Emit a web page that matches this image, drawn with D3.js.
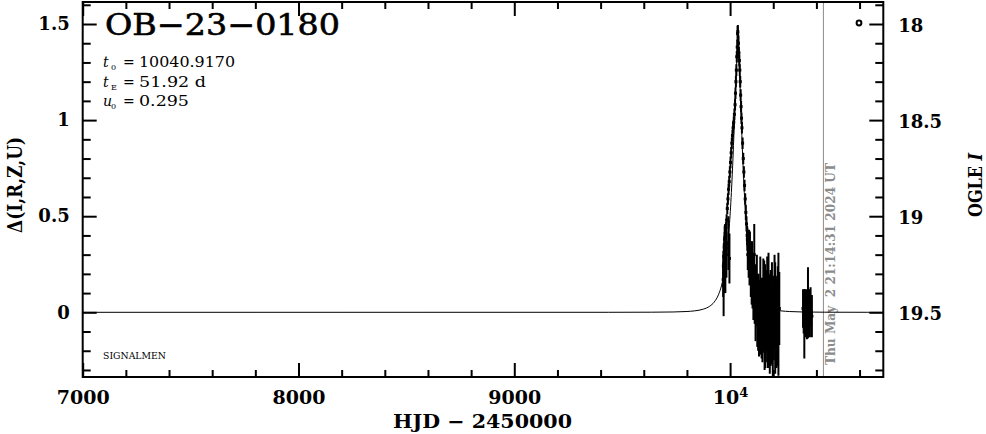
<!DOCTYPE html>
<html><head><meta charset="utf-8">
<script src="https://cdn.jsdelivr.net/npm/d3@7"></script>
<style>html,body{margin:0;padding:0;background:#fff;}svg{display:block;}</style>
</head><body>
<svg id="c" width="986" height="434"></svg>
<script>
// ---------- data ----------
const eventName = "OB\u221223\u22120180";
const paramVars = ["t", "t", "u"];
const paramSubs = ["0", "E", "0"];
const paramVals = ["10040.9170", "51.92 d", "0.295"];
const footLabel = "SIGNALMEN";
const dateLabel = "Thu May  2 21:14:31 2024 UT";
const nowHJD = 10432.5;
const xLabel = "HJD \u2212 2450000";
const yLabel = "\u0394(I,R,Z,U)";
const y2Label = ["OGLE ", "I"];
const baseMag = 19.5;

const xMajor = [7000, 8000, 9000, 10000];
const xMajorLabels = ["7000", "8000", "9000", "10^4"];
const xMinor = [7200,7400,7600,7800,8200,8400,8600,8800,9200,9400,9600,9800,10200,10400,10600];
const yMajor = [0, 0.5, 1, 1.5];
const yMajorLabels = ["0", "0.5", "1", "1.5"];
const yMinor = [-0.3,-0.2,-0.1,0.1,0.2,0.3,0.4,0.6,0.7,0.8,0.9,1.1,1.2,1.3,1.4,1.6];
const magMajor = [18, 18.5, 19, 19.5];
const magMajorLabels = ["18", "18.5", "19", "19.5"];
const magMinor = [17.9,18.1,18.2,18.3,18.4,18.6,18.7,18.8,18.9,19.1,19.2,19.3,19.4,19.6,19.7,19.8];

// model curve
const modelT = [7000, 9436, 9636, 9736, 9796, 9836, 9876, 9906, 9926, 9946, 9961, 9976, 9986, 9996, 10006, 10014, 10021, 10028, 10036, 10044, 10051, 10058, 10066, 10076, 10086, 10096, 10111, 10126, 10146, 10166, 10196, 10236, 10276, 10336, 10436, 10636, 10710];
const modelD = [0, 0.0001, 0.0006, 0.0017, 0.0040, 0.0076, 0.0164, 0.0320, 0.0527, 0.0910, 0.1416, 0.2268, 0.3150, 0.4416, 0.6229, 0.8186, 1.0265, 1.238, 1.360, 1.238, 1.0265, 0.8186, 0.6229, 0.4416, 0.3150, 0.2268, 0.1416, 0.0910, 0.0527, 0.0320, 0.0164, 0.0076, 0.0040, 0.0017, 0.0006, 0.0001, 0.0001];

// observations: time, delta-mag, error
const obsT = [
 9968,9969,9970,9971,9972,9973,9974,9975,9976,9977,9978,9979,9980,9983,9992,9997,
 9981,9984,9987,9990,9993,9996,9999,10002,10005,10008,10011,10014,10017,10020,10023,10025,10027,10029,10031,10033,10035,10036,
 10039,10041,10043,10045,10047,10049,10051,10053,10055,10058,10061,10064,10067,10070,10073,10076,10079,
 10080,10082,10084,10086,10088,10090,10092,10094,10096,10098,10100,10102,10104,10106,10108,10110,10112,10114,10116,10118,10120,10122,10124,10126,10128,10130,10132,10134,10136,10138,10140,10142,10144,10146,10148,10150,10152,10154,10156,10158,10160,10162,10164,10166,10168,10170,10172,10174,10176,10178,10180,10182,10184,10186,10188,10190,10192,10194,10196,10198,10200,10203,10206,10209,10212,10215,10218,10221,10224,10228,
 10338,10341,10344,10347,10350,10353,10356,10359,10361,10364,10367,10370,10373,10376,10379];
const obsD = [
 0.17,0.24,0.14,0.29,0.20,0.34,0.26,0.38,0.31,0.41,0.22,0.36,0.40,0.30,0.36,0.28,
 0.44,0.48,0.54,0.59,0.64,0.68,0.73,0.78,0.83,0.88,0.92,0.96,0.99,1.03,1.08,1.14,1.20,1.26,1.33,1.38,1.45,1.46,
 1.40,1.35,1.31,1.26,1.20,1.13,1.07,1.01,0.96,0.88,0.80,0.73,0.66,0.59,0.52,0.46,0.40,
 0.38,0.30,0.35,0.27,0.33,0.22,0.30,0.25,0.18,0.28,0.15,0.24,0.12,0.20,0.08,0.17,0.30,0.05,0.14,-0.02,0.10,0.03,0.12,-0.06,0.06,0.00,0.09,-0.08,0.04,-0.03,0.07,-0.10,0.02,-0.05,0.05,-0.12,0.00,0.08,-0.07,0.03,-0.15,-0.02,0.06,-0.09,0.01,-0.04,0.10,-0.13,-0.01,0.01,-0.06,0.04,-0.10,0.07,-0.03,0.02,-0.08,0.05,-0.02,-0.11,0.03,-0.05,0.06,-0.03,0.00,-0.07,0.04,-0.02,-0.01,0.02,
 0.02,-0.03,-0.06,0.03,-0.01,0.05,-0.04,0.02,0.05,-0.02,0.01,-0.05,0.03,0.00,-0.02];
const obsE = [
 0.09,0.08,0.16,0.07,0.10,0.06,0.08,0.07,0.09,0.05,0.12,0.08,0.06,0.12,0.14,0.13,
 0.03,0.03,0.03,0.03,0.03,0.03,0.03,0.03,0.03,0.03,0.03,0.03,0.03,0.03,0.03,0.03,0.03,0.03,0.03,0.04,0.04,0.035,
 0.04,0.03,0.03,0.03,0.03,0.03,0.03,0.03,0.03,0.03,0.03,0.03,0.03,0.03,0.04,0.04,0.05,
 0.06,0.08,0.07,0.09,0.10,0.08,0.12,0.07,0.10,0.09,0.11,0.13,0.10,0.08,0.12,0.14,0.16,0.11,0.09,0.13,0.15,0.10,0.18,0.12,0.14,0.20,0.11,0.15,0.13,0.17,0.22,0.12,0.16,0.19,0.10,0.14,0.18,0.20,0.13,0.24,0.15,0.27,0.12,0.17,0.21,0.14,0.19,0.16,0.12,0.30,0.18,0.15,0.22,0.13,0.25,0.11,0.19,0.21,0.14,0.23,0.16,0.20,0.24,0.29,0.18,0.22,0.15,0.26,0.32,0.19,
 0.10,0.08,0.18,0.09,0.12,0.07,0.10,0.08,0.185,0.09,0.11,0.08,0.10,0.07,0.11];

// ---------- drawing ----------
const svg = d3.select("#c");
const L = 82.7, R = 883.3, T = 2, B = 377;
const x = d3.scaleLinear().domain([7000, 10710]).range([L, R]);
const y = d3.scaleLinear().domain([-0.3366, 1.6145]).range([B, T]);
const m = d3.scaleLinear().domain([baseMag - y.domain()[0], baseMag - y.domain()[1]]).range([B, T]);

const serif = "'DejaVu Serif', 'Liberation Serif', serif";

svg.append("defs").append("clipPath").attr("id", "clip")
  .append("rect").attr("x", L).attr("y", T).attr("width", R - L).attr("height", B - T);

// vertical "now" line
svg.append("line").attr("x1", x(nowHJD)).attr("x2", x(nowHJD)).attr("y1", T).attr("y2", B)
  .attr("stroke", "#8c8c8c").attr("stroke-width", 1);
svg.append("text").attr("transform", `translate(${x(nowHJD) + 12},${B - 12}) rotate(-90)`)
  .attr("font-family", serif).attr("font-weight", "bold").attr("font-size", 12)
  .attr("fill", "#8c8c8c").style("white-space", "pre")
  .attr("textLength", 202).attr("lengthAdjust", "spacingAndGlyphs").text(dateLabel);

const plot = svg.append("g").attr("clip-path", "url(#clip)");

// model curve
const model = modelT.map((t, i) => [t, modelD[i]]);
plot.append("path").datum(model)
  .attr("d", d3.line().x(d => x(d[0])).y(d => y(d[1])).curve(d3.curveMonotoneX))
  .attr("fill", "none").attr("stroke", "#000").attr("stroke-width", 1);

// observations
const obs = obsT.map((t, i) => ({ t, d: obsD[i], e: obsE[i] }));
plot.selectAll("line.eb").data(obs).enter().append("line").attr("class", "eb")
  .attr("x1", d => x(d.t)).attr("x2", d => x(d.t))
  .attr("y1", d => y(d.d - d.e)).attr("y2", d => y(d.d + d.e))
  .attr("stroke", "#000").attr("stroke-width", 2);
plot.selectAll("rect.pt").data(obs).enter().append("rect").attr("class", "pt")
  .attr("x", d => x(d.t) - 1.5).attr("y", d => y(d.d) - 1.5).attr("width", 3).attr("height", 3)
  .attr("fill", "#000");

// axes
function styleAxis(g) {
  g.select(".domain").remove();
  g.selectAll(".tick line").attr("stroke", "#000").attr("stroke-width", 2);
  g.selectAll(".tick text").attr("fill", "#000").attr("font-family", serif).attr("font-weight", "bold");
}
// bottom
const gb = svg.append("g").attr("transform", `translate(0,${B})`);
gb.append("g").call(d3.axisBottom(x).tickValues(xMinor).tickSize(-7).tickFormat("")).call(styleAxis);
const gbm = gb.append("g").call(d3.axisBottom(x).tickValues(xMajor).tickSize(-14).tickPadding(14)
  .tickFormat((d, i) => "")).call(styleAxis);
gbm.selectAll(".tick text").each(function (d, i) {
  const lab = xMajorLabels[i];
  const t = d3.select(this).attr("font-size", 19);
  if (lab.includes("^")) {
    const [b, e] = lab.split("^");
    t.append("tspan").text(b);
    t.append("tspan").attr("font-size", 13).attr("dy", "-0.55em").text(e);
  } else t.text(lab);
});
// top
const gt = svg.append("g").attr("transform", `translate(0,${T})`);
gt.append("g").call(d3.axisTop(x).tickValues(xMinor).tickSize(-7).tickFormat("")).call(styleAxis);
gt.append("g").call(d3.axisTop(x).tickValues(xMajor).tickSize(-14).tickFormat("")).call(styleAxis);
// left
const gl = svg.append("g").attr("transform", `translate(${L},0)`);
gl.append("g").call(d3.axisLeft(y).tickValues(yMinor).tickSize(-8).tickFormat("")).call(styleAxis);
gl.append("g").call(d3.axisLeft(y).tickValues(yMajor).tickSize(-14).tickPadding(13)
  .tickFormat((d, i) => yMajorLabels[i])).call(styleAxis)
  .selectAll(".tick text").attr("font-size", 18);
// right
const gr = svg.append("g").attr("transform", `translate(${R},0)`);
gr.append("g").call(d3.axisRight(m).tickValues(magMinor).tickSize(-8).tickFormat("")).call(styleAxis);
gr.append("g").call(d3.axisRight(m).tickValues(magMajor).tickSize(-14).tickPadding(15)
  .tickFormat((d, i) => magMajorLabels[i])).call(styleAxis)
  .selectAll(".tick text").attr("font-size", 18).attr("dy", "0.42em");

// frame
svg.append("rect").attr("x", L).attr("y", T).attr("width", R - L).attr("height", B - T)
  .attr("fill", "none").attr("stroke", "#000").attr("stroke-width", 2);

// title
svg.append("text").attr("x", 105).attr("y", 35).attr("font-family", serif).attr("font-size", 30)
  .attr("fill", "#000").attr("stroke", "#000").attr("stroke-width", 0.6)
  .attr("textLength", 235).attr("lengthAdjust", "spacingAndGlyphs").text(eventName);

// parameters
const pBase = [67, 87, 106];
const pLen = [96, 67, 50];
paramVars.forEach((v, i) => {
  const g = svg.append("g").attr("font-family", serif).attr("fill", "#000");
  g.append("text").attr("x", 103).attr("y", pBase[i]).attr("font-size", 14).attr("font-style", "italic").text(v);
  g.append("text").attr("x", 111).attr("y", pBase[i] + 3).attr("font-size", 8).text(paramSubs[i]);
  g.append("text").attr("x", 123).attr("y", pBase[i]).attr("font-size", 14).text("=");
  g.append("text").attr("x", 139).attr("y", pBase[i]).attr("font-size", 14)
    .attr("textLength", pLen[i]).attr("lengthAdjust", "spacingAndGlyphs").style("white-space", "pre").text(paramVals[i]);
});

// footer
svg.append("text").attr("x", 103).attr("y", 359).attr("font-family", serif).attr("font-size", 9.5)
  .attr("textLength", 63).attr("lengthAdjust", "spacingAndGlyphs").text(footLabel);

// OGLE marker symbol
svg.append("circle").attr("cx", 859).attr("cy", 23).attr("r", 2.4)
  .attr("fill", "none").attr("stroke", "#000").attr("stroke-width", 2);

// axis titles
svg.append("text").attr("x", 482.5).attr("y", 428).attr("text-anchor", "middle")
  .attr("font-family", serif).attr("font-weight", "bold").attr("font-size", 19)
  .attr("textLength", 179).attr("lengthAdjust", "spacingAndGlyphs").text(xLabel);
svg.append("text").attr("transform", "translate(22,185) rotate(-90)").attr("text-anchor", "middle")
  .attr("font-family", serif).attr("font-weight", "bold").attr("font-size", 20)
  .attr("textLength", 96).attr("lengthAdjust", "spacingAndGlyphs").text(yLabel);
const r2 = svg.append("text").attr("transform", "translate(982,185) rotate(-90)").attr("text-anchor", "middle")
  .attr("font-family", serif).attr("font-weight", "bold").attr("font-size", 18)
  .attr("textLength", 64).attr("lengthAdjust", "spacingAndGlyphs");
r2.append("tspan").text(y2Label[0]);
r2.append("tspan").attr("font-style", "italic").text(y2Label[1]);
</script>
</body></html>
